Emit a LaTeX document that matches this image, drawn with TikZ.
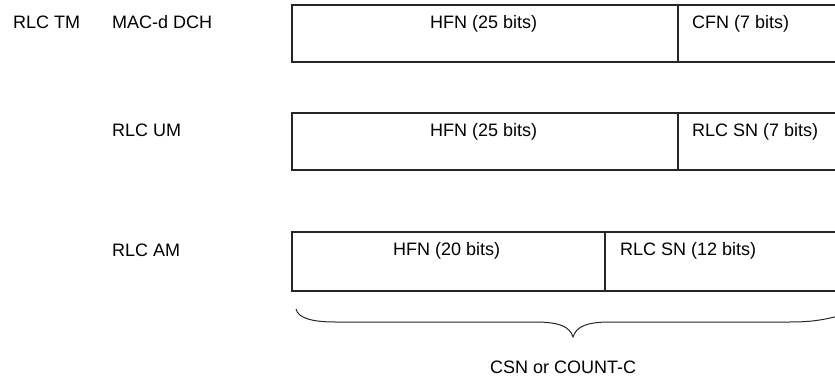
\documentclass[tikz,border=0pt]{standalone}
\usepackage{fontspec}
\setmainfont{Liberation Sans}
\begin{document}
\begin{tikzpicture}[x=1pt,y=-1pt,
  lbl/.style={inner sep=0pt,font=\fontsize{18}{21}\selectfont,text=black},
  frame/.style={draw=black!85,line width=1.1pt}]
\useasboundingbox (0,0) rectangle (835,379);
\clip (0,0) rectangle (835,379);
% row labels
\node[lbl,anchor=base west] (tm) at (13,29) {RLC TM};
\node[lbl,anchor=base west] (mac) at (112,29) {MAC-d DCH};
\node[lbl,anchor=base west] (um) at (112,137) {RLC UM};
\node[lbl,anchor=base west] (am) at (112,257) {RLC AM};
% box 1
\draw[frame] (850,5) -- (292,5) -- (292,62) -- (850,62);
\draw[frame] (678,5) -- (678,62);
\node[lbl,anchor=base west] (h1) at (430,29) {HFN (25 bits)};
\node[lbl,anchor=base west] (c1) at (692,29) {CFN (7 bits)};
% box 2
\draw[frame] (850,113) -- (292,113) -- (292,170) -- (850,170);
\draw[frame] (678,113) -- (678,170);
\node[lbl,anchor=base west] (h2) at (430,137) {HFN (25 bits)};
\node[lbl,anchor=base west] (s2) at (692,137) {RLC SN (7 bits)};
% box 3
\draw[frame] (850,232) -- (292,232) -- (292,291) -- (850,291);
\draw[frame] (605,232) -- (605,291);
\node[lbl,anchor=base west] (h3) at (393,256) {HFN (20 bits)};
\node[lbl,anchor=base west] (s3) at (620,256) {RLC SN (12 bits)};
% brace
\draw[black!85,line width=1pt]
  (296,309) .. controls (298,318) and (312,322) .. (335,322)
  -- (535,322) .. controls (560,322) and (570,327) .. (573,337)
  .. controls (576,327) and (586,322) .. (610,322)
  -- (790,322) .. controls (812,322) and (825,320) .. (850,313);
\node[lbl,anchor=base west] (csn) at (490,373) {CSN or COUNT-C};
\end{tikzpicture}
\end{document}
